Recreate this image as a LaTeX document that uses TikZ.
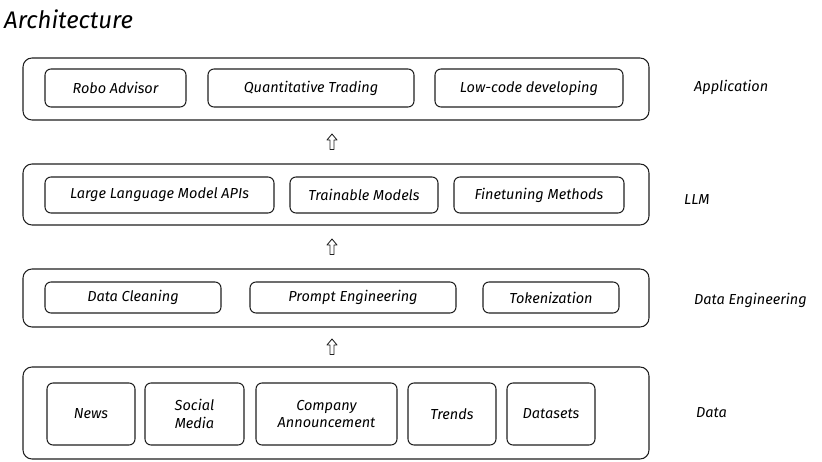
\documentclass[tikz,border=0pt]{standalone}
\usepackage{fontspec}
\setmainfont{Fira Sans}[UprightFont=* Italic, BoldFont=* Italic]
\usetikzlibrary{calc}

\tikzset{
  sketch/.style={draw=black!88, line width=1.05pt, line join=round,
    rounded corners=#1, inner sep=0pt, align=center,
    font=\fontsize{14.5}{17.5}\selectfont},
  sketch/.default=6pt,
  layer/.style={sketch=9pt, minimum width=626pt},
  part/.style={sketch=6pt},
  sidelabel/.style={anchor=west, inner sep=0pt, font=\fontsize{14.5}{17}\selectfont},
  uparrow/.pic={
    \draw[black!88, line width=0.85pt, line join=round]
      (0,-8) -- (5,-2) -- (2,-2) -- (2,7.5) -- (-2,7.5)
      -- (-2,-2) -- (-5,-2) -- cycle;
  }
}

\begin{document}
\begin{tikzpicture}[x=1pt, y=-1pt]
  \useasboundingbox (0,0) rectangle (822,462);

  \node[anchor=west, inner sep=0pt, font=\fontsize{24}{28}\selectfont]
    (title) at (4,19) {Architecture};

  % layer frames
  \node[layer, minimum height=62pt] (app)  at (336,89)  {};
  \node[layer, minimum height=61pt] (llm)  at (336,194.5) {};
  \node[layer, minimum height=58pt] (deng) at (336,298) {};
  \node[layer, minimum height=92pt] (data) at (336,413) {};

  % application layer
  \node[part, minimum width=141pt, minimum height=38pt] (robo)  at (115.5,88) {Robo Advisor};
  \node[part, minimum width=206pt, minimum height=38pt] (quant) at (311,88)   {Quantitative Trading};
  \node[part, minimum width=188pt, minimum height=38pt] (lowc)  at (529,88)   {Low-code developing};

  % LLM layer
  \node[part, minimum width=229pt, minimum height=36pt] (apis)  at (159.5,195) {Large Language Model APIs};
  \node[part, minimum width=148pt, minimum height=36pt] (train) at (364,195)   {Trainable Models};
  \node[part, minimum width=170pt, minimum height=36pt] (fine)  at (539,195)   {Finetuning Methods};

  % data engineering layer
  \node[part, minimum width=176pt, minimum height=31pt] (clean)  at (133,297.5) {Data Cleaning};
  \node[part, minimum width=206pt, minimum height=31pt] (prompt) at (353,297.5) {Prompt Engineering};
  \node[part, minimum width=136pt, minimum height=31pt] (token)  at (551,297.5) {Tokenization};

  % data layer
  \node[part, minimum width=88pt,  minimum height=62pt] (news)   at (91,414)    {News};
  \node[part, minimum width=99pt,  minimum height=62pt] (social) at (194.5,414) {Social\\Media};
  \node[part, minimum width=141pt, minimum height=62pt] (comp)   at (326.5,414) {Company\\Announcement};
  \node[part, minimum width=88pt,  minimum height=62pt] (trend)  at (452,414)   {Trends};
  \node[part, minimum width=88pt,  minimum height=62pt] (dsets)  at (551,414)   {Datasets};

  % layer names
  \node[sidelabel] (lapp)  at (694,87)  {Application};
  \node[sidelabel] (lllm)  at (684,200) {LLM};
  \node[sidelabel] (ldeng) at (694,300) {Data Engineering};
  \node[sidelabel] (ldata) at (696,413) {Data};

  % upward flow between layers
  \pic at ($([xshift=-4pt]app.south)!0.5!([xshift=-4pt]llm.north)$) {uparrow};
  \pic at ($([xshift=-4pt]llm.south)!0.5!([xshift=-4pt]deng.north)$) {uparrow};
  \pic at ($([xshift=-4pt]deng.south)!0.5!([xshift=-4pt]data.north)$) {uparrow};
\end{tikzpicture}
\end{document}
